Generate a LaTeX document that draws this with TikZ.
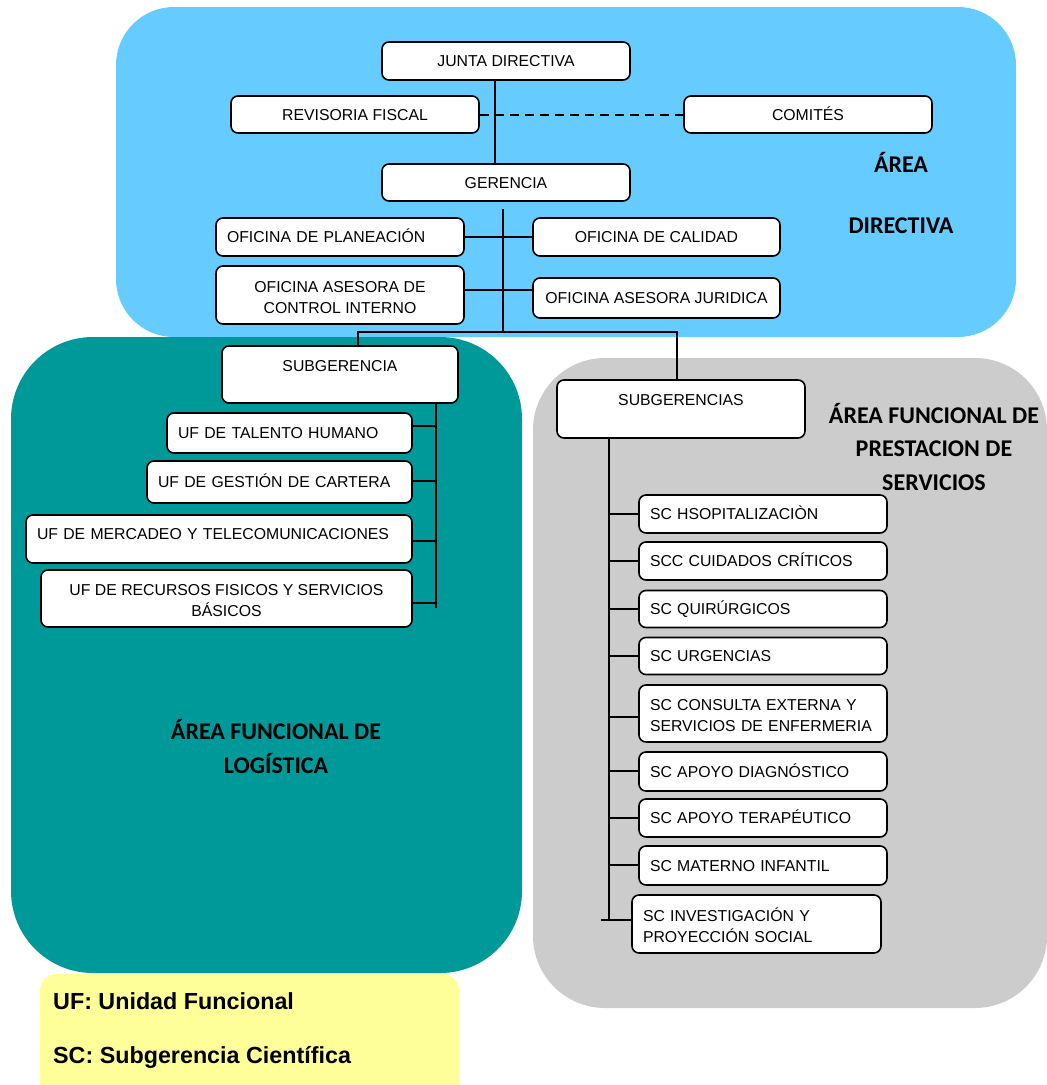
\documentclass[tikz,border=0pt]{standalone}
\usepackage{fontspec}
\setmainfont{Liberation Sans}
\newfontfamily\areafont{Carlito}
\usetikzlibrary{calc}

\definecolor{dirblue}{RGB}{102,204,255}
\definecolor{logteal}{RGB}{0,153,153}
\definecolor{servgray}{RGB}{204,204,204}
\definecolor{noteyellow}{RGB}{255,255,153}

\begin{document}
\begin{tikzpicture}[x=1pt,y=-1pt,
  unit/.style={draw, line width=1.6pt, rounded corners=7pt, fill=white,
    inner sep=0pt, font=\fontsize{15.8}{20}\selectfont,
    text height=11.3pt, text depth=0pt, align=center},
  twolines/.style={font=\fontsize{15.8}{21}\selectfont, text height=36.3pt},
  twoleft/.style={font=\fontsize{15.8}{21}\selectfont, text height=15.3pt, text depth=21pt},
  lft/.style={align=left, inner xsep=11pt, text width=#1},
  sc/.style={unit, lft=226pt, minimum height=38pt},
  link/.style={line width=1.8pt},
  area/.style={inner sep=0pt, text depth=0pt, align=center},
  note/.style={anchor=base west, inner sep=0pt,
    font=\bfseries\fontsize{23.3}{24}\selectfont},
]
\useasboundingbox (0,0) rectangle (1047,1085);
\clip (0,0) rectangle (1047,1085);

% coloured areas
\fill[dirblue, rounded corners=58pt] (116,7) rectangle (1016,337);
\fill[logteal, rounded corners=82pt] (11,337) rectangle (522,973);
\fill[servgray, rounded corners=72pt] (533,358) rectangle (1047,1008);
\fill[noteyellow, rounded corners=16pt] (40,974) rectangle (459,1110);

% area titles
\node[area, text height=76.5pt, font=\areafont\bfseries\fontsize{24}{61}\selectfont] (tdir) at (901,194.75) {ÁREA\\DIRECTIVA};
\node[area, text height=82.5pt, font=\areafont\bfseries\fontsize{24}{33.5}\selectfont] (tserv) at (934,449) {ÁREA FUNCIONAL DE\\PRESTACION DE\\SERVICIOS};
\node[area, text height=49.5pt, font=\areafont\bfseries\fontsize{24}{34}\selectfont] (tlog) at (276,749) {ÁREA FUNCIONAL DE\\LOGÍSTICA};

% legend
\node[note] (nuf) at (53,1009) {UF: Unidad Funcional};
\node[note] (nsc) at (53,1063) {SC: Subgerencia Científica};

% directive area
\node[unit, minimum width=248pt, minimum height=38pt] (junta) at (506,61) {JUNTA DIRECTIVA};
\node[unit, minimum width=248pt, minimum height=37pt] (revisoria) at (355,114.5) {REVISORIA FISCAL};
\node[unit, minimum width=248pt, minimum height=37pt] (comites) at (808,114.5) {COMITÉS};
\node[unit, minimum width=248pt, minimum height=37pt] (gerencia) at (506,182.5) {GERENCIA};
\node[unit, lft=226pt, minimum height=38pt] (planeacion) at (340,237) {OFICINA DE PLANEACIÓN};
\node[unit, minimum width=247pt, minimum height=38pt] (calidad) at (656.5,237) {OFICINA DE CALIDAD};
\node[unit, twolines, minimum width=248pt, minimum height=58pt] (control) at (340,295) {OFICINA ASESORA DE\\CONTROL INTERNO};
\node[unit, minimum width=247pt, minimum height=40pt] (juridica) at (656.5,298) {OFICINA ASESORA JURIDICA};

% logistics area
\node[unit, minimum width=236pt, minimum height=57pt, text depth=17pt] (subgerencia) at (340,374.5) {SUBGERENCIA};
\node[unit, lft=223pt, minimum height=40pt] (talento) at (289.5,433) {UF DE TALENTO HUMANO};
\node[unit, lft=243pt, minimum height=42pt] (cartera) at (279.5,482) {UF DE GESTIÓN DE CARTERA};
\node[unit, lft=364pt, minimum height=48pt, text depth=10pt] (mercadeo) at (219,539) {UF DE MERCADEO Y TELECOMUNICACIONES};
\node[unit, twolines, minimum width=371pt, minimum height=57pt] (recursos) at (226.5,598.5) {UF DE RECURSOS FISICOS Y SERVICIOS\\BÁSICOS};

% service area
\node[unit, minimum width=248pt, minimum height=58pt, text depth=18pt] (subgerencias) at (681,409) {SUBGERENCIAS};
\node[sc] (hosp) at (763,514) {SC HSOPITALIZACIÒN};
\node[sc] (criticos) at (763,561) {SCC CUIDADOS CRÍTICOS};
\node[sc, minimum height=37pt] (quir) at (763,609) {SC QUIRÚRGICOS};
\node[sc, minimum height=37pt] (urg) at (763,656) {SC URGENCIAS};
\node[sc, twoleft, minimum height=57pt] (consulta) at (763,713.5) {SC CONSULTA EXTERNA Y\\SERVICIOS DE ENFERMERIA};
\node[sc, minimum height=39pt] (diag) at (763,771.5) {SC APOYO DIAGNÓSTICO};
\node[sc] (terap) at (763,818) {SC APOYO TERAPÉUTICO};
\node[sc, minimum height=39pt] (materno) at (763,865.5) {SC MATERNO INFANTIL};
\node[unit, twoleft, lft=227pt, minimum height=58pt] (invest) at (756.5,924) {SC INVESTIGACIÓN Y\\PROYECCIÓN SOCIAL};

% links of the directive area
\coordinate (jdx) at (495,0);
\draw[link] (junta.south -| jdx) -- (gerencia.north -| jdx);
\coordinate (dy) at (0,115);
\draw[line width=1.8pt, dash pattern=on 9pt off 6pt] (revisoria.east |- dy) -- (comites.west |- dy);
\coordinate (gtop) at (503,209);
\coordinate (gbus) at (503,332);
\draw[link] (gtop) -- (gbus);
\draw[link] (planeacion.east) -- (calidad.west);
\coordinate (jy) at (0,290);
\draw[link] (control.east |- jy) -- (juridica.west |- jy);

% bus towards both sub-management units
\coordinate (busL) at (358,332);
\coordinate (busR) at (677,332);
\draw[link] (subgerencia.north -| busL) -- (busL) -- (busR) -- (subgerencias.north -| busR);

% logistics spine
\coordinate (ls) at (436,0);
\coordinate (lend) at (436,608);
\draw[link] (subgerencia.south -| ls) -- (lend);
\coordinate (l1) at (436,426);
\coordinate (l2) at (436,481);
\coordinate (l3) at (436,541);
\coordinate (l4) at (436,603);
\draw[link] (l1) -- (talento.east |- l1);
\draw[link] (l2) -- (cartera.east |- l2);
\draw[link] (l3) -- (mercadeo.east |- l3);
\draw[link] (l4) -- (recursos.east |- l4);

% services spine
\coordinate (rs) at (609,0);
\coordinate (rend) at (609,920);
\draw[link] (subgerencias.south -| rs) -- (rend);
\coordinate (r1) at (609,514);
\coordinate (r2) at (609,561);
\coordinate (r3) at (609,609);
\coordinate (r4) at (609,656);
\coordinate (r5) at (609,717);
\coordinate (r6) at (609,771);
\coordinate (r7) at (609,818);
\coordinate (r8) at (609,865);
\coordinate (r9) at (601,920);
\draw[link] (r1) -- (hosp.west |- r1);
\draw[link] (r2) -- (criticos.west |- r2);
\draw[link] (r3) -- (quir.west |- r3);
\draw[link] (r4) -- (urg.west |- r4);
\draw[link] (r5) -- (consulta.west |- r5);
\draw[link] (r6) -- (diag.west |- r6);
\draw[link] (r7) -- (terap.west |- r7);
\draw[link] (r8) -- (materno.west |- r8);
\draw[link] (r9) -- (invest.west |- r9);
\end{tikzpicture}
\end{document}
